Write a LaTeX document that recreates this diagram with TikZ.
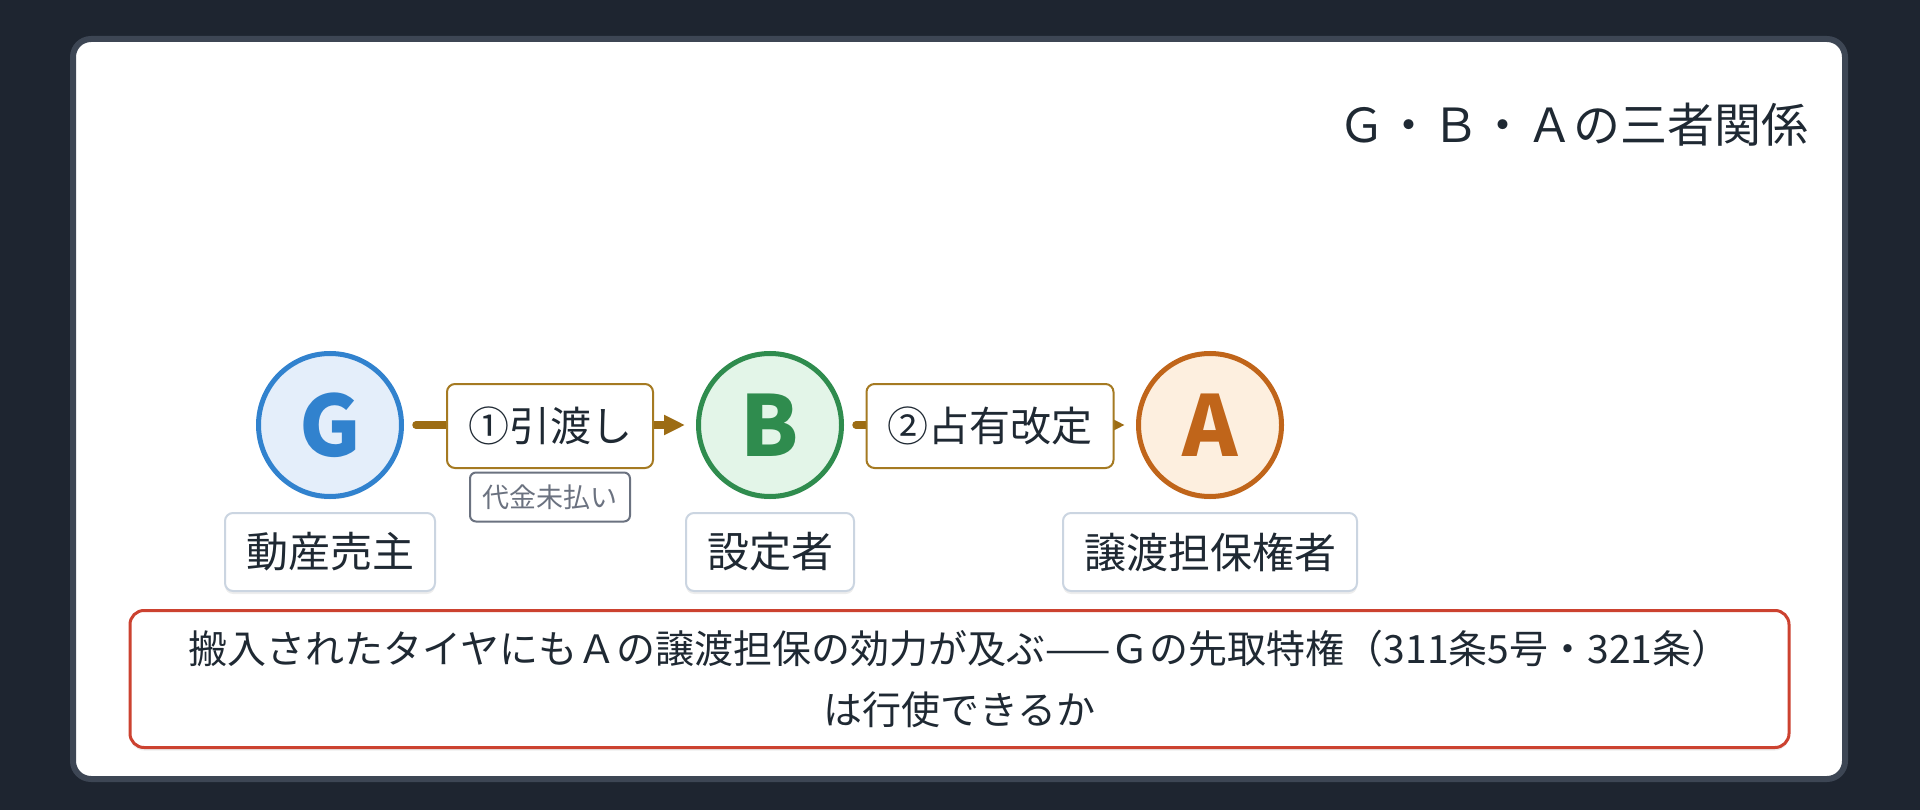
\documentclass[tikz,border=0pt]{standalone}
\usepackage{fontspec}
\setmainfont{Noto Sans CJK JP}
\usetikzlibrary{arrows.meta,shadows}
\definecolor{bg}{HTML}{1E2530}
\definecolor{cardline}{HTML}{3D4654}
\definecolor{ink}{HTML}{1F2933}
\definecolor{gblue}{HTML}{3182CE}
\definecolor{gfill}{HTML}{E4EEFA}
\definecolor{bgreen}{HTML}{2F8C4E}
\definecolor{bfill}{HTML}{E3F5E8}
\definecolor{aorange}{HTML}{C0651A}
\definecolor{afill}{HTML}{FDEFDF}
\definecolor{gold}{HTML}{9C6C14}
\definecolor{goldline}{HTML}{A57A22}
\definecolor{labline}{HTML}{CBD5E1}
\definecolor{notegray}{HTML}{6B7280}
\definecolor{redline}{HTML}{CC4230}
\tikzset{
  softshadow/.style={drop shadow={shadow xshift=0pt,shadow yshift=-3pt,opacity=0.07,fill=black}},
  party/.style={circle,line width=5pt,minimum size=143pt,inner sep=0pt,
    font=\fontsize{84pt}{84pt}\selectfont\bfseries,softshadow},
  rolebox/.style={draw=labline,line width=2pt,rounded corners=8pt,fill=white,
    minimum height=78pt,inner xsep=21pt,inner ysep=0pt,text=ink,
    font=\fontsize{42pt}{50pt}\selectfont,softshadow},
  actbox/.style={draw=goldline,line width=2pt,rounded corners=8pt,fill=white,
    minimum height=84pt,inner xsep=21pt,inner ysep=0pt,text=ink,
    font=\fontsize{41pt}{50pt}\selectfont},
  notebox/.style={draw=notegray,line width=2pt,rounded corners=6pt,fill=white,
    minimum width=160pt,minimum height=49pt,inner sep=0pt,text=notegray,
    font=\fontsize{27pt}{32pt}\selectfont},
  issuebox/.style={draw=redline,line width=3pt,rounded corners=14pt,fill=white,
    minimum width=1659pt,minimum height=137pt,inner sep=0pt,text=ink,align=center,
    font=\fontsize{39pt}{61pt}\selectfont,softshadow},
  flow/.style={draw=gold,line width=7.5pt,line cap=round,
    -{Triangle[length=21pt,width=19pt]},shorten <=12pt,shorten >=11pt}
}
\begin{document}
\begin{tikzpicture}[x=1pt,y=-1pt]
\useasboundingbox (0,0) rectangle (1920,810);
\fill[bg] (0,0) rectangle (1920,810);
\draw[cardline,line width=6pt,fill=white,rounded corners=18pt] (73,39) rectangle (1845,779);

\node[anchor=east,inner sep=0pt,text=ink,font=\fontsize{47pt}{56pt}\selectfont] (title) at (1809,125) {Ｇ・Ｂ・Ａの三者関係};

\node[party,draw=gblue,fill=gfill,text=gblue] (G) at (330,425) {G};
\node[party,draw=bgreen,fill=bfill,text=bgreen] (B) at (770,425) {B};
\node[party,draw=aorange,fill=afill,text=aorange] (A) at (1210,425) {A};

\draw[flow] (G) -- (B);
\draw[flow] (B) -- (A);

\node[actbox] (hand) at (550,426) {①引渡し};
\node[actbox] (poss) at (990,426) {②占有改定};
\node[notebox] (unpaid) at (550,497) {代金未払い};

\node[rolebox] (lG) at (330,552) {動産売主};
\node[rolebox] (lB) at (770,552) {設定者};
\node[rolebox] (lA) at (1210,552) {譲渡担保権者};

\node[issuebox] (issue) at (959.5,679) {搬入されたタイヤにもＡの譲渡担保の効力が及ぶ——Ｇの先取特権（311条5号・321条）\\は行使できるか};
\end{tikzpicture}
\end{document}
